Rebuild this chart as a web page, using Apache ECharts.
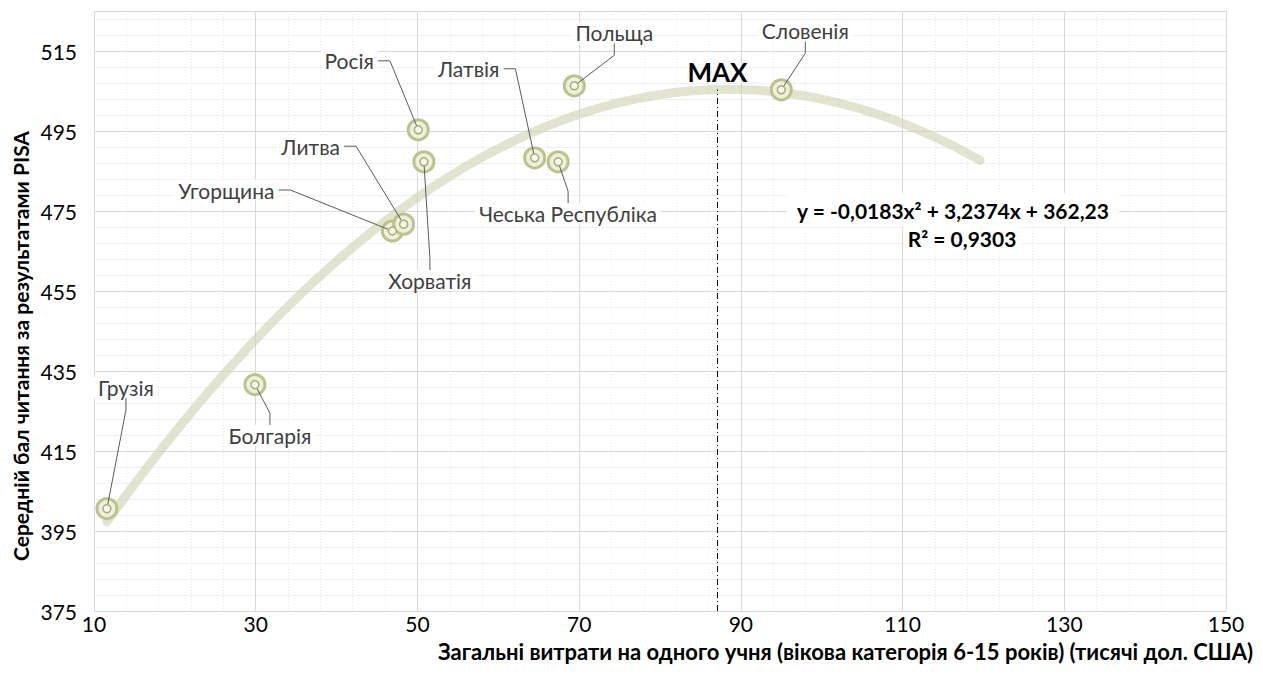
<!DOCTYPE html>
<html>
<head>
<meta charset="utf-8">
<script src="https://cdn.jsdelivr.net/npm/echarts@6/dist/echarts.min.js"></script>
<style>
  html, body { margin: 0; padding: 0; background: #fff; }
  #chart { width: 1263px; height: 686px; }
</style>
</head>
<body>
<div id="chart"></div>
<script>
// Countries, spending per student (thousand USD) and mean PISA reading score
const countries = ['Грузія', 'Болгарія', 'Угорщина', 'Литва', 'Хорватія', 'Росія', 'Латвія', 'Чеська Республіка', 'Польща', 'Словенія'];
const spending  = [11.6, 29.9, 46.9, 48.3, 50.8, 50.1, 64.5, 67.4, 69.4, 95.0];
const scores    = [400.6, 431.6, 470.0, 471.7, 487.3, 495.3, 488.3, 487.3, 506.3, 505.3];

// Polynomial trend (order 2): a, b, c  and its R²
const trendCoef = [-0.0183, 3.2374, 362.23];
const trendR2 = '0,9303';
const trendRange = [11.6, 120];
const maxX = 87.1;

// Axis ticks
const xTicks = [10, 30, 50, 70, 90, 110, 130, 150];
const yTicks = [375, 395, 415, 435, 455, 475, 495, 515];

// Label offsets (px) from each point to its label centre
const labelOffsets = [
  [19, -121], [15, 51], [-166, -41], [-93, -78], [6, 119],
  [-69, -69], [-66, -89], [10, 52], [40, -53], [24, -59]
];

const FONT = 'Lato, "Open Sans", sans-serif';

const points = countries.map((n, i) => ({ name: n, value: [spending[i], scores[i]] }));

const trend = [];
for (let x = trendRange[0]; x <= trendRange[1] + 1e-9; x += 0.5) {
  trend.push([x, trendCoef[0] * x * x + trendCoef[1] * x + trendCoef[2]]);
}
const peakY = trendCoef[0] * maxX * maxX + trendCoef[1] * maxX + trendCoef[2];

const chart = echarts.init(document.getElementById('chart'), null, { renderer: 'svg' });
chart.setOption({
  animation: false,
  grid: { left: 94, right: 37, top: 11, bottom: 75, containLabel: false },
  xAxis: {
    type: 'value', min: xTicks[0], max: xTicks[xTicks.length - 1], interval: 20,
    axisLine: { show: false }, axisTick: { show: false },
    axisLabel: { fontFamily: FONT, fontSize: 21, color: '#000', margin: 2 },
    splitLine: { show: true, lineStyle: { color: '#d9d9d9', width: 1 } },
    minorTick: { show: false, splitNumber: 5 },
    minorSplitLine: { show: true, lineStyle: { color: '#e8e8e8', width: 1, type: [1, 2] } }
  },
  yAxis: {
    type: 'value', min: yTicks[0], max: 525, interval: 20,
    axisLine: { show: false }, axisTick: { show: false },
    axisLabel: { fontFamily: FONT, fontSize: 21, color: '#000', margin: 17, showMaxLabel: false },
    splitLine: { show: true, lineStyle: { color: '#d9d9d9', width: 1 } },
    minorTick: { show: false, splitNumber: 5 },
    minorSplitLine: { show: true, lineStyle: { color: '#efefef', width: 1 } }
  },
  series: [
    {
      type: 'line', data: trend, showSymbol: false, smooth: false, z: 2,
      lineStyle: { color: 'rgba(208,210,176,0.6)', width: 9, cap: 'round' },
      markLine: {
        silent: true, symbol: 'none',
        lineStyle: { color: '#000', width: 1, type: [6, 3, 1, 3] },
        label: { show: true, position: 'end', formatter: 'MAX', fontFamily: FONT, fontSize: 26, fontWeight: 'bold', color: '#000', distance: 4 },
        data: [[{ coord: [maxX, yTicks[0]] }, { coord: [maxX, peakY] }]]
      }
    },
    {
      type: 'scatter', data: points, symbol: 'circle', symbolSize: 20, z: 3,
      itemStyle: { color: '#eef0dc', borderColor: '#bcc28e', borderWidth: 3, opacity: 1 }
    },
    {
      type: 'scatter', data: points, symbol: 'circle', symbolSize: 8, z: 4,
      itemStyle: { color: '#f7f8ee', borderColor: '#a9ae76', borderWidth: 1.5, opacity: 1 },
      label: {
        show: true, position: 'inside', formatter: '{b}',
        fontFamily: FONT, fontSize: 21, color: '#404040', padding: [0, 4],
        backgroundColor: '#fff'
      },
      labelLine: { show: true, length2: 12, minTurnAngle: 0, lineStyle: { color: '#5a5a5a', width: 1 } },
      labelLayout: function (p) {
        const o = labelOffsets[p.dataIndex];
        return { dx: o[0], dy: o[1] };
      }
    }
  ],
  graphic: [
    {
      type: 'text', x: 953, y: 210, z: 10,
      style: { text: 'y = -0,0183x² + 3,2374x + 362,23', font: 'bold 21px ' + FONT, fill: '#000', textAlign: 'center', textVerticalAlign: 'middle', backgroundColor: '#fff', padding: [6, 10] }
    },
    {
      type: 'text', x: 962, y: 238, z: 10,
      style: { text: 'R² = ' + trendR2, font: 'bold 21px ' + FONT, fill: '#000', textAlign: 'center', textVerticalAlign: 'middle', backgroundColor: '#fff', padding: [0, 4, 6, 4] }
    },
    {
      type: 'text', x: 1253, y: 651,
      style: { text: 'Загальні витрати на одного учня (вікова категорія 6-15 років) (тисячі дол. США)', font: 'bold 22px ' + FONT, fill: '#000', textAlign: 'right', textVerticalAlign: 'middle' }
    },
    {
      type: 'text', x: 20, y: 346, rotation: Math.PI / 2,
      style: { text: 'Середній бал читання за результатами PISA', font: 'bold 21px ' + FONT, fill: '#000', textAlign: 'center', textVerticalAlign: 'middle' }
    }
  ]
});
</script>
</body>
</html>
